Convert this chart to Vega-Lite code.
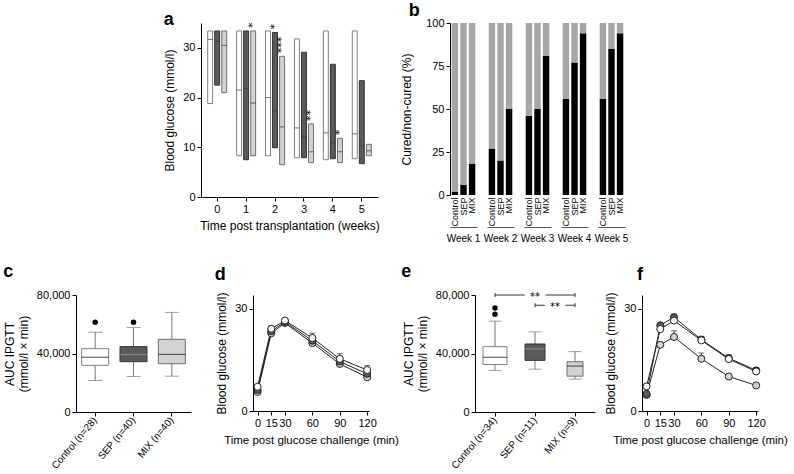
{
 "$schema": "https://vega.github.io/schema/vega-lite/v6.json",
 "padding": {"left": 3, "top": 2, "right": 0, "bottom": 0},
 "background": "white",
 "config": {
  "font": "Liberation Sans",
  "view": {"stroke": null},
  "axis": {"grid": false, "labelFontSize": 11, "titleFontSize": 12, "titleFontWeight": "normal", "domainColor": "#000", "tickColor": "#000", "labelColor": "#000", "titleColor": "#000", "tickSize": 4, "labelPadding": 2, "titlePadding": 6},
  "title": {"fontSize": 18, "fontWeight": "bold", "anchor": "start", "frame": "bounds", "color": "#000"},
  "header": {"labelFontSize": 10, "labelColor": "#000"}
 },
 "datasets": {
  "a": [
   {"week": 0, "group": "Control", "min": 18.8, "max": 33.4, "median": 31.7, "sig": ""},
   {"week": 0, "group": "SEP", "min": 22.5, "max": 33.4, "median": 31.3, "sig": ""},
   {"week": 0, "group": "MIX", "min": 21.0, "max": 33.4, "median": 30.5, "sig": ""},
   {"week": 1, "group": "Control", "min": 8.3, "max": 33.4, "median": 21.5, "sig": ""},
   {"week": 1, "group": "SEP", "min": 7.5, "max": 33.4, "median": 21.8, "sig": ""},
   {"week": 1, "group": "MIX", "min": 8.3, "max": 33.4, "median": 18.9, "sig": "*"},
   {"week": 2, "group": "Control", "min": 8.3, "max": 33.4, "median": 20.0, "sig": ""},
   {"week": 2, "group": "SEP", "min": 9.9, "max": 33.1, "median": 17.3, "sig": "*"},
   {"week": 2, "group": "MIX", "min": 6.5, "max": 28.3, "median": 14.1, "sig": "***"},
   {"week": 3, "group": "Control", "min": 7.9, "max": 31.8, "median": 13.9, "sig": ""},
   {"week": 3, "group": "SEP", "min": 7.9, "max": 29.1, "median": 12.2, "sig": ""},
   {"week": 3, "group": "MIX", "min": 6.9, "max": 14.7, "median": 9.1, "sig": "**"},
   {"week": 4, "group": "Control", "min": 7.5, "max": 33.4, "median": 12.9, "sig": ""},
   {"week": 4, "group": "SEP", "min": 7.7, "max": 26.7, "median": 10.9, "sig": ""},
   {"week": 4, "group": "MIX", "min": 6.9, "max": 11.8, "median": 9.1, "sig": "*"},
   {"week": 5, "group": "Control", "min": 7.7, "max": 33.4, "median": 12.7, "sig": ""},
   {"week": 5, "group": "SEP", "min": 6.7, "max": 23.4, "median": 10.4, "sig": ""},
   {"week": 5, "group": "MIX", "min": 8.3, "max": 10.6, "median": 9.3, "sig": ""}
  ],
  "b": [
   {"week": "Week 1", "group": "Control", "status": "Cured", "pct": 2},
   {"week": "Week 1", "group": "Control", "status": "Non-cured", "pct": 98},
   {"week": "Week 1", "group": "SEP", "status": "Cured", "pct": 6},
   {"week": "Week 1", "group": "SEP", "status": "Non-cured", "pct": 94},
   {"week": "Week 1", "group": "MIX", "status": "Cured", "pct": 18},
   {"week": "Week 1", "group": "MIX", "status": "Non-cured", "pct": 82},
   {"week": "Week 2", "group": "Control", "status": "Cured", "pct": 27},
   {"week": "Week 2", "group": "Control", "status": "Non-cured", "pct": 73},
   {"week": "Week 2", "group": "SEP", "status": "Cured", "pct": 20},
   {"week": "Week 2", "group": "SEP", "status": "Non-cured", "pct": 80},
   {"week": "Week 2", "group": "MIX", "status": "Cured", "pct": 50},
   {"week": "Week 2", "group": "MIX", "status": "Non-cured", "pct": 50},
   {"week": "Week 3", "group": "Control", "status": "Cured", "pct": 46},
   {"week": "Week 3", "group": "Control", "status": "Non-cured", "pct": 54},
   {"week": "Week 3", "group": "SEP", "status": "Cured", "pct": 50},
   {"week": "Week 3", "group": "SEP", "status": "Non-cured", "pct": 50},
   {"week": "Week 3", "group": "MIX", "status": "Cured", "pct": 81},
   {"week": "Week 3", "group": "MIX", "status": "Non-cured", "pct": 19},
   {"week": "Week 4", "group": "Control", "status": "Cured", "pct": 56},
   {"week": "Week 4", "group": "Control", "status": "Non-cured", "pct": 44},
   {"week": "Week 4", "group": "SEP", "status": "Cured", "pct": 77},
   {"week": "Week 4", "group": "SEP", "status": "Non-cured", "pct": 23},
   {"week": "Week 4", "group": "MIX", "status": "Cured", "pct": 94},
   {"week": "Week 4", "group": "MIX", "status": "Non-cured", "pct": 6},
   {"week": "Week 5", "group": "Control", "status": "Cured", "pct": 56},
   {"week": "Week 5", "group": "Control", "status": "Non-cured", "pct": 44},
   {"week": "Week 5", "group": "SEP", "status": "Cured", "pct": 85},
   {"week": "Week 5", "group": "SEP", "status": "Non-cured", "pct": 15},
   {"week": "Week 5", "group": "MIX", "status": "Cured", "pct": 94},
   {"week": "Week 5", "group": "MIX", "status": "Non-cured", "pct": 6}
  ],
  "c_box": [
   {"group": "Control", "label": "Control (n=28)", "lower": 21500, "q1": 31900, "median": 37400, "q3": 43300, "upper": 54600},
   {"group": "SEP", "label": "SEP (n=40)", "lower": 24300, "q1": 34400, "median": 39200, "q3": 44700, "upper": 57800},
   {"group": "MIX", "label": "MIX (n=40)", "lower": 24500, "q1": 33000, "median": 39400, "q3": 49700, "upper": 68100}
  ],
  "c_out": [
   {"label": "Control (n=28)", "value": 61400},
   {"label": "SEP (n=40)", "value": 61400}
  ],
  "e_box": [
   {"group": "Control", "label": "Control (n=34)", "lower": 28400, "q1": 32500, "median": 37400, "q3": 44700, "upper": 62100},
   {"group": "SEP", "label": "SEP (n=11)", "lower": 29300, "q1": 35300, "median": 43100, "q3": 46500, "upper": 54800},
   {"group": "MIX", "label": "MIX (n=9)", "lower": 22500, "q1": 24500, "median": 31400, "q3": 34400, "upper": 41300}
  ],
  "e_out": [
   {"label": "Control (n=34)", "value": 66900},
   {"label": "Control (n=34)", "value": 71100}
  ],
  "e_sig": [
   {"from": "Control (n=34)", "to": "MIX (n=9)", "y": 80000},
   {"from": "SEP (n=11)", "to": "MIX (n=9)", "y": 73000}
  ],
  "d": [
   {"group": "MIX", "time": 0, "mean": 5.6, "upper": 6.0},
   {"group": "MIX", "time": 15, "mean": 22.8, "upper": 23.3},
   {"group": "MIX", "time": 30, "mean": 25.8, "upper": 26.3},
   {"group": "MIX", "time": 60, "mean": 19.9, "upper": 21.0},
   {"group": "MIX", "time": 90, "mean": 13.8, "upper": 15.0},
   {"group": "MIX", "time": 120, "mean": 9.9, "upper": 11.0},
   {"group": "SEP", "time": 0, "mean": 6.2, "upper": 6.6},
   {"group": "SEP", "time": 15, "mean": 23.4, "upper": 23.9},
   {"group": "SEP", "time": 30, "mean": 26.1, "upper": 26.6},
   {"group": "SEP", "time": 60, "mean": 20.6, "upper": 21.8},
   {"group": "SEP", "time": 90, "mean": 14.5, "upper": 15.8},
   {"group": "SEP", "time": 120, "mean": 10.9, "upper": 12.1},
   {"group": "Control", "time": 0, "mean": 7.1, "upper": 7.6},
   {"group": "Control", "time": 15, "mean": 24.1, "upper": 24.6},
   {"group": "Control", "time": 30, "mean": 26.5, "upper": 27.0},
   {"group": "Control", "time": 60, "mean": 21.4, "upper": 22.8},
   {"group": "Control", "time": 90, "mean": 15.3, "upper": 16.8},
   {"group": "Control", "time": 120, "mean": 12.0, "upper": 13.3}
  ],
  "f": [
   {"group": "MIX", "time": 0, "mean": 4.7, "upper": 5.1},
   {"group": "MIX", "time": 15, "mean": 19.4, "upper": 19.9},
   {"group": "MIX", "time": 30, "mean": 21.7, "upper": 23.5},
   {"group": "MIX", "time": 60, "mean": 15.3, "upper": 17.0},
   {"group": "MIX", "time": 90, "mean": 10.1, "upper": 10.5},
   {"group": "MIX", "time": 120, "mean": 7.5, "upper": 7.9},
   {"group": "SEP", "time": 0, "mean": 5.0, "upper": 5.4},
   {"group": "SEP", "time": 15, "mean": 25.1, "upper": 25.6},
   {"group": "SEP", "time": 30, "mean": 27.5, "upper": 28.4},
   {"group": "SEP", "time": 60, "mean": 20.9, "upper": 21.9},
   {"group": "SEP", "time": 90, "mean": 15.5, "upper": 16.5},
   {"group": "SEP", "time": 120, "mean": 11.9, "upper": 12.7},
   {"group": "Control", "time": 0, "mean": 7.2, "upper": 7.6},
   {"group": "Control", "time": 15, "mean": 24.0, "upper": 24.5},
   {"group": "Control", "time": 30, "mean": 26.5, "upper": 27.0},
   {"group": "Control", "time": 60, "mean": 20.7, "upper": 21.3},
   {"group": "Control", "time": 90, "mean": 15.2, "upper": 15.9},
   {"group": "Control", "time": 120, "mean": 11.6, "upper": 12.2}
  ]
 },
 "spacing": 19,
 "vconcat": [
  {
   "spacing": 20,
   "columns": 3,
   "align": "none",
   "concat": [
    {"width": 67, "height": 10, "data": {"values": []}, "mark": {"type": "point", "opacity": 0}},
    {
     "width": 177, "height": 174,
     "title": {"text": "a", "dx": 0, "offset": -7},
     "data": {"name": "a"},
     "encoding": {
      "x": {"field": "week", "type": "ordinal", "scale": {"paddingInner": 0, "paddingOuter": 0.06}, "axis": {"title": "Time post transplantation (weeks)", "labelAngle": 0}},
      "xOffset": {"field": "group", "type": "nominal", "sort": ["Control", "SEP", "MIX"], "scale": {"paddingInner": 0.3, "paddingOuter": 0.7}}
     },
     "layer": [
      {"mark": {"type": "bar", "strokeWidth": 1},
       "encoding": {
        "y": {"field": "max", "type": "quantitative", "scale": {"domain": [0, 35]}, "axis": {"values": [0, 10, 20, 30], "title": "Blood glucose (mmol/l)"}},
        "y2": {"field": "min"},
        "fill": {"field": "group", "type": "nominal", "scale": {"domain": ["Control", "SEP", "MIX"], "range": ["#ffffff", "#5a5a5a", "#d2d2d2"]}, "legend": null},
        "stroke": {"field": "group", "type": "nominal", "scale": {"domain": ["Control", "SEP", "MIX"], "range": ["#808080", "#333333", "#6e6e6e"]}, "legend": null}
       }},
      {"mark": {"type": "tick", "thickness": 1, "size": 5, "color": "#333"},
       "encoding": {"y": {"field": "median", "type": "quantitative"}}},
      {"mark": {"type": "text", "angle": 270, "align": "left", "baseline": "middle", "dx": 3, "fontSize": 11, "font": "DejaVu Sans", "color": "#000", "fill": "#000"},
       "encoding": {"y": {"field": "max", "type": "quantitative"}, "text": {"field": "sig"}}}
     ]
    },
    {
     "title": {"text": "b", "dx": 8, "offset": -3},
     "data": {"name": "b"},
     "facet": {"column": {"field": "week", "type": "nominal", "header": {"title": null, "labelOrient": "bottom", "labelFontSize": 10, "labelPadding": 7}}},
     "spacing": 10,
     "spec": {
      "width": 27, "height": 172,
      "layer": [
       {"mark": {"type": "bar"},
        "encoding": {
         "x": {"field": "group", "type": "nominal", "sort": ["Control", "SEP", "MIX"], "scale": {"paddingInner": 0.25, "paddingOuter": 0.2}, "axis": {"title": null, "labelAngle": 270, "ticks": false, "domain": false, "labelFontSize": 9, "labelPadding": 2}},
         "y": {"field": "pct", "type": "quantitative", "stack": true, "scale": {"domain": [0, 100]}, "axis": {"values": [0, 25, 50, 75, 100], "title": "Cured/non-cured (%)", "titlePadding": 12}},
         "color": {"field": "status", "type": "nominal", "scale": {"domain": ["Cured", "Non-cured"], "range": ["#000000", "#a6a6a6"]}, "legend": null},
         "order": {"field": "status", "type": "ordinal", "sort": "ascending"}
        }},
       {"mark": {"type": "bar", "opacity": 0},
        "encoding": {
         "x": {"field": "group", "type": "nominal", "sort": ["Control", "SEP", "MIX"], "axis": {"orient": "bottom", "offset": 32, "labels": false, "ticks": false, "domain": true, "domainColor": "#555", "title": null}},
         "y": {"field": "pct", "type": "quantitative", "stack": true}
        }}
      ],
      "resolve": {"axis": {"x": "independent"}}
     }
    }
   ]
  },
  {
   "spacing": 2,
   "hconcat": [
    {
     "spacing": 23,
     "hconcat": [
      {
       "width": 115, "height": 117,
       "title": {"text": "c", "dx": 0, "offset": 8},
       "encoding": {"x": {"field": "label", "type": "nominal", "sort": ["Control (n=28)", "SEP (n=40)", "MIX (n=40)"], "scale": {"paddingInner": 0, "paddingOuter": 0}, "axis": {"title": null, "labelAngle": -50, "labelFontSize": 10}}},
       "layer": [
        {"data": {"name": "c_box"}, "mark": {"type": "rule", "color": "#777"},
         "encoding": {"y": {"field": "lower", "type": "quantitative", "scale": {"domain": [0, 80000]}, "axis": {"values": [0, 20000, 40000, 60000, 80000], "format": ",d", "title": ["AUC IPGTT", "(mmol/l × min)"]}}, "y2": {"field": "upper"}}},
        {"data": {"name": "c_box"}, "mark": {"type": "tick", "color": "#777", "size": 14, "thickness": 1}, "encoding": {"y": {"field": "lower", "type": "quantitative"}}},
        {"data": {"name": "c_box"}, "mark": {"type": "tick", "color": "#777", "size": 14, "thickness": 1}, "encoding": {"y": {"field": "upper", "type": "quantitative"}}},
        {"data": {"name": "c_box"}, "mark": {"type": "bar", "size": 27, "strokeWidth": 1},
         "encoding": {"y": {"field": "q1", "type": "quantitative"}, "y2": {"field": "q3"},
          "fill": {"field": "group", "type": "nominal", "scale": {"domain": ["Control", "SEP", "MIX"], "range": ["#ffffff", "#5a5a5a", "#d2d2d2"]}, "legend": null},
          "stroke": {"field": "group", "type": "nominal", "scale": {"domain": ["Control", "SEP", "MIX"], "range": ["#808080", "#333333", "#8a8a8a"]}, "legend": null}}},
        {"data": {"name": "c_box"}, "mark": {"type": "tick", "size": 27, "thickness": 1},
         "encoding": {"y": {"field": "median", "type": "quantitative"}, "color": {"field": "group", "type": "nominal", "scale": {"domain": ["Control", "SEP", "MIX"], "range": ["#555555", "#111111", "#888888"]}, "legend": null}}},
        {"data": {"name": "c_out"}, "mark": {"type": "point", "filled": true, "color": "#000", "size": 30, "opacity": 1},
         "encoding": {"y": {"field": "value", "type": "quantitative"}}}
       ]
      },
      {
       "width": 116, "height": 116,
       "title": {"text": "d", "dx": -1, "offset": 8},
       "data": {"name": "d"},
       "encoding": {
        "x": {"field": "time", "type": "quantitative", "scale": {"domain": [-5, 122], "nice": false, "zero": false}, "axis": {"values": [0, 15, 30, 60, 90, 120], "title": "Time post glucose challenge (min)", "titleFontSize": 11.5}}
       },
       "layer": [
        {"mark": {"type": "line", "color": "#222", "strokeWidth": 1},
         "encoding": {"y": {"field": "mean", "type": "quantitative", "scale": {"domain": [0, 34], "nice": false}, "axis": {"values": [0, 10, 20, 30], "title": "Blood glucose (mmol/l)"}}, "detail": {"field": "group"}}},
        {"mark": {"type": "rule", "color": "#333", "strokeWidth": 1},
         "encoding": {"y": {"field": "mean", "type": "quantitative"}, "y2": {"field": "upper"}}},
        {"mark": {"type": "tick", "orient": "horizontal", "size": 6, "thickness": 1, "color": "#333"},
         "encoding": {"y": {"field": "upper", "type": "quantitative"}}},
        {"mark": {"type": "point", "filled": true, "size": 50, "stroke": "#222", "strokeWidth": 1, "opacity": 1},
         "encoding": {"y": {"field": "mean", "type": "quantitative"},
          "fill": {"field": "group", "type": "nominal", "scale": {"domain": ["Control", "SEP", "MIX"], "range": ["#ffffff", "#f2f2f2", "#c0c0c0"]}, "legend": null}}}
       ]
      }
     ]
    },
    {
     "spacing": 9,
     "hconcat": [
      {
       "width": 120, "height": 117,
       "title": {"text": "e", "dx": -1, "offset": 8},
       "encoding": {"x": {"field": "label", "type": "nominal", "scale": {"domain": ["Control (n=34)", "SEP (n=11)", "MIX (n=9)"], "paddingInner": 0, "paddingOuter": 0}, "axis": {"title": null, "labelAngle": -50, "labelFontSize": 10}}},
       "layer": [
        {"data": {"name": "e_box"}, "mark": {"type": "rule", "color": "#777"},
         "encoding": {"y": {"field": "lower", "type": "quantitative", "scale": {"domain": [0, 80000]}, "axis": {"values": [0, 20000, 40000, 60000, 80000], "format": ",d", "title": ["AUC IPGTT", "(mmol/l × min)"]}}, "y2": {"field": "upper"}}},
        {"data": {"name": "e_box"}, "mark": {"type": "tick", "color": "#777", "size": 13, "thickness": 1}, "encoding": {"y": {"field": "lower", "type": "quantitative"}}},
        {"data": {"name": "e_box"}, "mark": {"type": "tick", "color": "#777", "size": 13, "thickness": 1}, "encoding": {"y": {"field": "upper", "type": "quantitative"}}},
        {"data": {"name": "e_box"}, "mark": {"type": "bar", "strokeWidth": 1},
         "encoding": {"y": {"field": "q1", "type": "quantitative"}, "y2": {"field": "q3"},
          "size": {"field": "group", "type": "ordinal", "sort": ["Control", "SEP", "MIX"], "scale": {"range": [24, 16]}, "legend": null},
          "fill": {"field": "group", "type": "nominal", "scale": {"domain": ["Control", "SEP", "MIX"], "range": ["#ffffff", "#5a5a5a", "#d2d2d2"]}, "legend": null},
          "stroke": {"field": "group", "type": "nominal", "scale": {"domain": ["Control", "SEP", "MIX"], "range": ["#808080", "#333333", "#8a8a8a"]}, "legend": null}}},
        {"data": {"name": "e_box"}, "mark": {"type": "tick", "thickness": 1},
         "encoding": {"y": {"field": "median", "type": "quantitative"},
          "size": {"field": "group", "type": "ordinal", "sort": ["Control", "SEP", "MIX"], "scale": {"range": [24, 16]}, "legend": null},
          "color": {"field": "group", "type": "nominal", "scale": {"domain": ["Control", "SEP", "MIX"], "range": ["#555555", "#111111", "#888888"]}, "legend": null}}},
        {"data": {"name": "e_out"}, "mark": {"type": "point", "filled": true, "color": "#000", "size": 30, "opacity": 1},
         "encoding": {"y": {"field": "value", "type": "quantitative"}}},
        {"data": {"name": "e_sig"}, "mark": {"type": "rule", "color": "#333", "strokeWidth": 1},
         "encoding": {"x": {"field": "from", "type": "nominal", "scale": {"domain": ["Control (n=34)", "SEP (n=11)", "MIX (n=9)"]}, "bandPosition": 0.5}, "x2": {"field": "to", "bandPosition": 0.5}, "y": {"field": "y", "type": "quantitative"}}},
        {"data": {"name": "e_sig"}, "mark": {"type": "point", "shape": "M0,-1L0,1", "size": 16, "stroke": "#333", "strokeWidth": 1, "filled": false, "opacity": 1},
         "encoding": {"x": {"field": "from", "type": "nominal", "scale": {"domain": ["Control (n=34)", "SEP (n=11)", "MIX (n=9)"]}}, "y": {"field": "y", "type": "quantitative"}}},
        {"data": {"name": "e_sig"}, "mark": {"type": "point", "shape": "M0,-1L0,1", "size": 16, "stroke": "#333", "strokeWidth": 1, "filled": false, "opacity": 1},
         "encoding": {"x": {"field": "to", "type": "nominal", "scale": {"domain": ["Control (n=34)", "SEP (n=11)", "MIX (n=9)"]}}, "y": {"field": "y", "type": "quantitative"}}},
        {"data": {"values": [{"mid": "SEP (n=11)", "y": 80000, "label": "**"}]}, "mark": {"type": "text", "fontSize": 10, "font": "DejaVu Sans", "baseline": "middle", "dy": 2, "fill": "white", "stroke": "white", "strokeWidth": 9},
         "encoding": {"x": {"field": "mid", "type": "nominal", "scale": {"domain": ["Control (n=34)", "SEP (n=11)", "MIX (n=9)"]}, "bandPosition": 0.5}, "y": {"field": "y", "type": "quantitative"}, "text": {"field": "label"}}},
        {"data": {"values": [{"mid": "SEP (n=11)", "y": 80000, "label": "**"}]}, "mark": {"type": "text", "fontSize": 10, "font": "DejaVu Sans", "baseline": "middle", "dy": 2, "color": "#000", "fill": "#000"},
         "encoding": {"x": {"field": "mid", "type": "nominal", "scale": {"domain": ["Control (n=34)", "SEP (n=11)", "MIX (n=9)"]}, "bandPosition": 0.5}, "y": {"field": "y", "type": "quantitative"}, "text": {"field": "label"}}},
        {"data": {"values": [{"mid": "SEP (n=11)", "y": 73000, "label": "**"}]}, "mark": {"type": "text", "fontSize": 10, "font": "DejaVu Sans", "baseline": "middle", "dy": 2, "fill": "white", "stroke": "white", "strokeWidth": 9},
         "encoding": {"x": {"field": "mid", "type": "nominal", "scale": {"domain": ["Control (n=34)", "SEP (n=11)", "MIX (n=9)"]}, "bandPosition": 1}, "y": {"field": "y", "type": "quantitative"}, "text": {"field": "label"}}},
        {"data": {"values": [{"mid": "SEP (n=11)", "y": 73000, "label": "**"}]}, "mark": {"type": "text", "fontSize": 10, "font": "DejaVu Sans", "baseline": "middle", "dy": 2, "color": "#000", "fill": "#000"},
         "encoding": {"x": {"field": "mid", "type": "nominal", "scale": {"domain": ["Control (n=34)", "SEP (n=11)", "MIX (n=9)"]}, "bandPosition": 1}, "y": {"field": "y", "type": "quantitative"}, "text": {"field": "label"}}}
       ]
      },
      {
       "width": 116, "height": 116,
       "title": {"text": "f", "frame": "group", "dx": -5, "offset": 8},
       "data": {"name": "f"},
       "encoding": {
        "x": {"field": "time", "type": "quantitative", "scale": {"domain": [-5, 122], "nice": false, "zero": false}, "axis": {"values": [0, 15, 30, 60, 90, 120], "title": "Time post glucose challenge (min)", "titleFontSize": 11.5}}
       },
       "layer": [
        {"mark": {"type": "line", "color": "#222", "strokeWidth": 1},
         "encoding": {"y": {"field": "mean", "type": "quantitative", "scale": {"domain": [0, 34], "nice": false}, "axis": {"values": [0, 10, 20, 30], "title": "Blood glucose (mmol/l)"}}, "detail": {"field": "group"}}},
        {"mark": {"type": "rule", "color": "#333", "strokeWidth": 1},
         "encoding": {"y": {"field": "mean", "type": "quantitative"}, "y2": {"field": "upper"}}},
        {"mark": {"type": "tick", "orient": "horizontal", "size": 6, "thickness": 1, "color": "#333"},
         "encoding": {"y": {"field": "upper", "type": "quantitative"}}},
        {"mark": {"type": "point", "filled": true, "size": 50, "stroke": "#222", "strokeWidth": 1, "opacity": 1},
         "encoding": {"y": {"field": "mean", "type": "quantitative"},
          "fill": {"field": "group", "type": "nominal", "scale": {"domain": ["Control", "SEP", "MIX"], "range": ["#ffffff", "#f2f2f2", "#c0c0c0"]}, "legend": null}}}
       ]
      }
     ]
    }
   ]
  }
 ]
}
